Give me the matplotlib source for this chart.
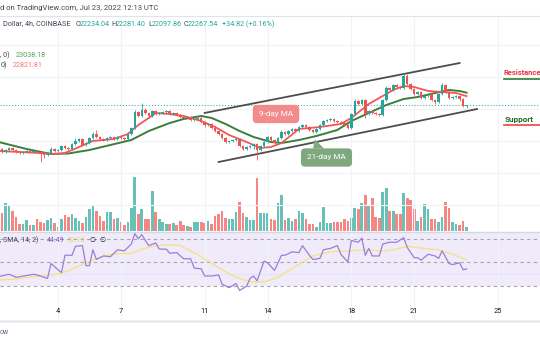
import numpy as np
import matplotlib.pyplot as plt
from matplotlib.transforms import Affine2D
from matplotlib.lines import Line2D
from matplotlib.patches import Polygon

plt.rcParams['font.family'] = ['Roboto', 'DejaVu Sans']

W, H = 540, 340

# 4h candles, first bar Jul 1 08:00 UTC
first_open = 19517
closes = [19330, 19455, 19580, 19455, 19330, 19265, 19330, 19390, 19330, 19390,
          19330, 19205, 19140, 19265, 19515, 19390, 19455, 19705, 19580, 19515,
          19830, 20015, 20140, 19765, 19890, 20205, 20455, 20265, 20140, 20080,
          20205, 20265, 20140, 20265, 20205, 20140, 20455, 20830, 21830, 21580,
          21955, 21765, 21580, 21890, 21705, 21765, 21830, 21890, 21705, 21765,
          21640, 21515, 21455, 21515, 21330, 21390, 21455, 21205, 21015, 21080,
          20830, 20640, 20455, 20205, 19955, 20015, 20080, 20140, 19705, 19515,
          19640, 19705, 19830, 19455, 19705, 19955, 20265, 20080, 19890, 20205,
          20580, 20455, 20640, 20765, 20640, 20890, 21015, 20890, 20705, 20580,
          20765, 21015, 21265, 21330, 21390, 21265, 21205, 21140, 21015, 20830,
          21705, 22515, 22330, 22580, 21705, 21890, 21765, 21705, 21640, 22580,
          23330, 23205, 23515, 23390, 23330, 24080, 23580, 23265, 22955, 23080,
          22705, 22830, 22955, 22580, 22455, 22955, 23515, 23080, 22705, 22765,
          22830, 22640, 22234.04, 22267.54]
n = len(closes)

# wick lengths beyond the body (price units)
wick_up = np.full(n, 70.0)
wick_dn = np.full(n, 70.0)
up_idx = [14, 21, 26, 27, 38, 40, 41, 61, 80, 101, 110, 115, 116, 126, 133]
up_len = [150, 200, 150, 250, 150, 435, 150, 150, 150, 150, 150, 190, 100, 150, 13.86]
dn_idx = [11, 12, 58, 72, 73, 104, 124, 131, 133]
dn_len = [500, 200, 150, 200, 625, 250, 150, 100, 136.18]
wick_up[up_idx] = up_len
wick_dn[dn_idx] = dn_len

volume = [2650, 4150, 3800, 3050, 2150, 1050, 1050, 1650, 900, 900,
          1750, 1300, 1150, 1650, 2000, 1150, 550, 1800, 2350, 2150,
          2500, 2000, 1550, 1150, 2100, 3250, 3750, 3050, 2300, 1500,
          2800, 2800, 1800, 1900, 1400, 950, 1300, 3400, 8050, 2500,
          3250, 1750, 1750, 6000, 2900, 1750, 1400, 1050, 1050, 1150,
          900, 1550, 900, 750, 650, 1300, 1300, 1400, 1150, 1500,
          1000, 2250, 2500, 3000, 2000, 1750, 1750, 2900, 4400, 2650,
          2150, 1650, 1650, 7900, 2650, 2650, 2650,
          1750, 1650, 4150, 5400, 1650, 2000, 1550, 1750, 3050, 2650,
          1750, 1050, 1050, 550, 1400, 3550, 1250, 1250, 1300, 1300,
          1400, 1750, 1500, 2000, 3400, 3250, 4150, 5400, 3750, 5000,
          2150, 1900, 5800, 6400, 3050, 3000, 2500, 2500, 5750, 4900,
          4650, 3250, 1550, 2150, 4050, 3300, 1750, 1750, 1400, 2150,
          4400, 3400, 1400, 1050, 900, 1550, 550]

# moving averages (bar index, price)
ma21_idx = [-1, 7, 14, 19, 25, 31, 37, 42, 48, 52, 57, 60, 64, 68, 72, 77, 80,
            85, 90, 96, 100, 105, 110, 115, 119, 124, 128, 131, 133]
ma21_val = [19955, 19517, 19205, 19237, 19455, 19767, 20080, 20642, 21142, 21392,
            21580, 21455, 21080, 20642, 20267, 19955, 19892, 20080, 20330, 20705,
            21267, 21767, 22267, 22642, 22767, 23017, 23205, 23142, 23038.18]
ma9_idx = [-1, 5, 11, 15, 18, 22, 26, 29, 32, 36, 39, 42, 44, 48, 52, 57, 61, 65,
           70, 74, 77, 80, 85, 91, 97, 100, 105, 108, 112, 115, 118, 122, 126, 130, 133]
ma9_val = [19392, 19330, 19267, 19205, 19267, 19642, 20017, 20080, 20142, 20455,
           21017, 21455, 21767, 21705, 21580, 21267, 20892, 20392, 19955, 19580,
           19642, 19892, 20767, 20892, 21080, 21455, 22330, 22705, 23205, 23455,
           23392, 23142, 23080, 23017, 22821.81]

# rising channel (bar index, price)
chan_upper = ([58, 131], [21770, 24890])
chan_lower = ([62, 136], [18705, 22017])

# RSI(14) and its SMA
rsi_idx = [-1, 2, 4, 7, 9, 10, 12, 13, 14, 16, 17, 18, 20, 21, 23, 24, 25, 26, 27, 29,
           31, 32, 33, 35, 37, 38, 39, 40, 41, 42, 44, 45, 47, 48, 50, 52, 54, 55, 57, 58,
           60, 62, 63, 65, 67, 68, 70, 71, 72, 73, 75, 76, 78, 80, 81, 83, 85, 86, 88, 89,
           91, 92, 94, 96, 97, 99, 100, 102, 103, 104, 105, 106, 108, 109, 111, 113, 115,
           116, 118, 119, 120, 122, 124, 125, 126, 128, 129, 131, 132, 133]
rsi_val = [37.9, 39.9, 37.3, 38.8, 39.9, 39.3, 37.3, 36.4, 49.1, 43.8, 41.4, 56.2, 56.2,
           63.9, 64.5, 47.3, 47.3, 60.9, 52.6, 55.6, 55.0, 57.9, 60.9, 60.0, 65.9, 74.8,
           70.4, 73.9, 68.9, 64.5, 66.8, 61.5, 61.5, 57.9, 58.5, 53.2, 53.2, 45.2, 44.6,
           38.4, 38.4, 39.3, 31.3, 28.4, 31.9, 26.0, 29.6, 36.4, 38.4, 34.3, 51.2, 49.7,
           43.2, 56.2, 56.2, 59.1, 58.5, 64.5, 56.2, 52.6, 53.5, 60.9, 62.1, 64.5, 57.1,
           50.3, 68.9, 67.4, 71.0, 56.2, 62.1, 55.6, 55.6, 65.9, 67.4, 67.4, 71.3, 63.0,
           54.1, 54.1, 52.0, 57.1, 55.6, 53.5, 60.0, 49.1, 48.2, 49.7, 43.8, 44.49]
rsi_ma_idx = [-1, 4, 9, 14, 17, 20, 24, 29, 33, 37, 40, 44, 48, 51, 55, 59, 63, 67, 71,
              75, 79, 84, 89, 94, 99, 104, 109, 112, 116, 120, 125, 129, 132, 133]
rsi_ma_val = [34.9, 35.8, 37.9, 39.3, 40.8, 44.3, 49.7, 55.6, 57.7, 57.7, 61.5, 64.5,
              65.3, 64.5, 58.5, 51.2, 43.8, 37.3, 33.4, 33.4, 37.3, 46.7, 55.6, 59.1,
              60.0, 60.9, 60.0, 60.9, 63.9, 62.4, 60.9, 57.1, 53.5, 52.16]

day_ticks = [16, 34, 58, 76, 100, 118, 142]
day_labels = ['4', '7', '11', '14', '18', '21', '25']
price_grid = [16000, 18000, 20000, 22000, 24000, 26000]

UP, DN = '#26a69a', '#ef5350'
VOL_UP, VOL_DN = '#67c1b8', '#f48784'
TXT = '#131722'
GRID = '#f0f3fa'

# pixel layout
X0, STEP = 2.13, 3.492
xlim = (-X0 / STEP, (W - X0) / STEP)

fig = plt.figure(figsize=(W / 100, H / 100), dpi=100)
fig.patch.set_facecolor('white')
pix = Affine2D().scale(1 / W, -1 / H).translate(0, 1) + fig.transFigure


def add_ax(y0, y1):
    a = fig.add_axes([0, 1 - y1 / H, 1, (y1 - y0) / H])
    a.set_xlim(*xlim)
    a.set_axis_off()
    return a


def hline(y, x0=0, x1=W, **kw):
    fig.add_artist(Line2D([x0, x1], [y, y], transform=pix, **kw))


def label(x, y, s, color=TXT, size=5.2, **kw):
    fig.text(x / W, 1 - y / H, s, color=color, fontsize=size, va='center', ha='left', **kw)


idx = np.arange(n)
closes = np.array(closes, dtype=float)
opens = np.r_[first_open, closes[:-1]]
up = closes >= opens
colors = np.where(up, UP, DN)
highs = np.maximum(opens, closes) + wick_up
lows = np.minimum(opens, closes) - wick_dn

# volume sits underneath the price pane
ax_vol = add_ax(16, 232)
ax_vol.set_ylim(-150, 32250)
ax_vol.bar(idx, volume, width=0.76, color=np.where(up, VOL_UP, VOL_DN), linewidth=0)

ax = add_ax(16, 232)
ax.patch.set_alpha(0)
ax.set_ylim(14329.5, 27829.5)
for p in price_grid:
    ax.axhline(p, color=GRID, lw=0.8, zorder=0)
for t in day_ticks:
    ax.axvline(t, color=GRID, lw=0.8, zorder=0)
ax.axhline(closes[-1], color=UP, lw=0.7, ls=(0, (1, 2)), zorder=1)
ax.plot(*chan_upper, color='#4d4d4d', lw=1.3, zorder=2)
ax.plot(*chan_lower, color='#4d4d4d', lw=1.3, zorder=2)
ax.plot(ma21_idx, ma21_val, color='#3b7d3b', lw=1.4, zorder=3)
ax.plot(ma9_idx, ma9_val, color='#f25757', lw=1.3, zorder=3)
ax.vlines(idx, lows, highs, colors=colors, lw=0.6, zorder=4)
body = np.maximum(np.abs(closes - opens), 45)
ax.bar(idx, body, bottom=np.minimum(opens, closes), width=0.74, color=colors,
       linewidth=0, zorder=5)

# RSI pane
ax_rsi = add_ax(232, 300)
ax_rsi.set_ylim(17.81, 76.18)
ax_rsi.axhspan(30, 80, color='#f0ebfa', lw=0, zorder=0)
for t in day_ticks:
    ax_rsi.axvline(t, color=GRID, lw=0.8, zorder=0)
ax_rsi.axhline(40, color='#e6e1f2', lw=0.6, zorder=0)
for lvl in (70, 50, 30):
    ax_rsi.axhline(lvl, color='#a3a3a8', lw=0.8, ls=(0, (3, 3)), zorder=1)
ax_rsi.plot(rsi_ma_idx, rsi_ma_val, color='#f5e27a', lw=0.9, zorder=2)
ax_rsi.plot(rsi_idx, rsi_val, color='#9a7fd6', lw=0.9, zorder=3)

# date strip
ax_t = add_ax(300, 320)
ax_t.set_ylim(0, 1)
for t, s in zip(day_ticks, day_labels):
    ax_t.axvline(t, color=GRID, lw=0.8, zorder=0)
    ax_t.text(t, 0.42, s, ha='center', va='center', fontsize=5.3, color=TXT)

# frame lines
hline(16, color='#e0e3eb', lw=0.8)
hline(232, color='#d6d9e0', lw=1.0)
hline(320.5, color='#e6e8ee', lw=1.8)

# header and legends
label(0, 8.3, 'd on TradingView.com, Jul 23, 2022 12:13 UTC', color='#434651', size=5.5)
label(3, 24, 'Dollar, 4h, COINBASE', color='#434651')
for x, s in [(76, 'O'), (111, 'H'), (148, 'L'), (184, 'C')]:
    label(x, 24, s, color='#434651')
for x, s in [(79.5, '22234.04'), (116, '22281.40'), (152, '22097.86'),
             (188, '22267.54'), (222, '+34.82 (+0.16%)')]:
    label(x, 24, s, color=UP)
label(0, 55.7, ', 0)', color='#434651')
label(15.5, 55.7, '23038.18', color='#5e9e5e')
label(1, 65.7, '0)', color='#434651')
label(12.7, 65.7, '22821.81', color='#f47272')
label(0, 240.5, ', SMA, 14, 2)', color='#434651', size=5.0)
label(46.5, 240.5, '44.49', color='#7e57c2', size=5.0)
label(67.8, 240.5, '52.16', color='#f2d64b', size=5.0)
label(89.5, 240.5, '\u2205', color=TXT, size=5.0)
label(99.5, 240.5, '\u2205', color=TXT, size=5.0)
label(0, 332.3, 'ow', color='#6a6d78', size=5.0)

# callouts
fig.text(276 / W, 1 - 114 / H, '9-day MA', color='white', fontsize=5.9,
         ha='center', va='center',
         bbox=dict(boxstyle='round,pad=0.75,rounding_size=0.5', fc='#f28c8c', ec='none'))
fig.add_artist(Polygon([(313, 148.5), (324, 148.5), (315, 139.5)], closed=True,
                       transform=pix, fc='#7fa87f', ec='none'))
fig.text(326.5 / W, 1 - 157.5 / H, '21-day MA', color='white', fontsize=5.9,
         ha='center', va='center',
         bbox=dict(boxstyle='round,pad=0.75,rounding_size=0.5', fc='#7fa87f', ec='none'))

# support / resistance tags
label(504, 73, 'Resistance', color='#e8333c', size=5.4, fontweight='bold')
hline(78.5, 504, W, color='#2e7d32', lw=1.2)
label(505, 119.5, 'Support', color='#1e6b2a', size=5.9, fontweight='bold')
hline(125, 504, W, color='#ef4444', lw=1.2)

fig.savefig('out.png', dpi=100)
